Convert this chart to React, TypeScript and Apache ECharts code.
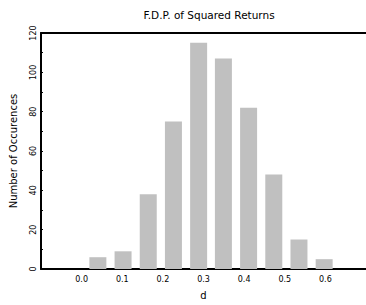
import React, { useEffect, useRef } from "react";
import * as echarts from "echarts";

const binCenters = [0.040, 0.102, 0.164, 0.226, 0.288, 0.349, 0.411, 0.473, 0.535, 0.597];
const counts = [6, 9, 38, 75, 115, 107, 82, 48, 15, 5];
const titleText = "F.D.P. of Squared Returns";
const xName = "d";
const yName = "Number of Occurences";

export default function App() {
  const ref = useRef<HTMLDivElement>(null);
  useEffect(() => {
    if (!ref.current) return;
    const chart = echarts.init(ref.current, undefined, { renderer: "svg" });
    const font = "DejaVu Sans, sans-serif";
    chart.setOption({
      animation: false,
      backgroundColor: "#ffffff",
      title: {
        text: titleText,
        left: 204,
        textAlign: "center",
        top: 4,
        textStyle: { fontSize: 10.5, fontWeight: "normal", color: "#000", fontFamily: font },
      },
      grid: { left: 38.5, right: -6, top: 33, bottom: 33, containLabel: false },
      xAxis: [
        {
          type: "value",
          min: -0.1,
          max: 0.7,
          interval: 0.1,
          name: xName,
          nameLocation: "middle",
          nameGap: 21,
          nameTextStyle: { fontSize: 10, color: "#000", fontFamily: font },
          splitLine: { show: false },
          axisLine: { show: true, onZero: false, lineStyle: { color: "#000", width: 2 } },
          axisTick: { show: false },
          axisLabel: {
            showMinLabel: false,
            showMaxLabel: false,
            margin: 6,
            fontSize: 8,
            color: "#000",
            fontFamily: font,
            formatter: (v: number) => v.toFixed(1),
          },
        },
        {
          type: "value",
          position: "top",
          min: -0.1,
          max: 0.7,
          splitLine: { show: false },
          axisLine: { show: true, onZero: false, lineStyle: { color: "#000", width: 2 } },
          axisTick: { show: false },
          axisLabel: { show: false },
        },
      ],
      yAxis: {
        type: "value",
        min: 0,
        max: 120,
        interval: 20,
        name: yName,
        nameLocation: "middle",
        nameGap: 23,
        nameTextStyle: { fontSize: 10, color: "#000", fontFamily: font },
        splitLine: { show: false },
        axisLine: { show: true, onZero: false, lineStyle: { color: "#000", width: 2 } },
        axisTick: { show: true, inside: true, length: 2, lineStyle: { color: "#000" } },
        minorTick: { show: true, splitNumber: 2, length: 2, lineStyle: { color: "#000" } },
        axisLabel: {
          rotate: 90,
          margin: 4,
          fontSize: 8,
          color: "#000",
          fontFamily: font,
        },
      },
      series: [
        {
          type: "bar",
          xAxisIndex: 0,
          barWidth: 17,
          itemStyle: { color: "#c0c0c0" },
          data: binCenters.map((x, i) => [x, counts[i]]),
        },
      ],
    });
    return () => chart.dispose();
  }, []);
  return <div ref={ref} style={{ width: 366, height: 305, position: "absolute", left: 0, top: 0 }} />;
}
